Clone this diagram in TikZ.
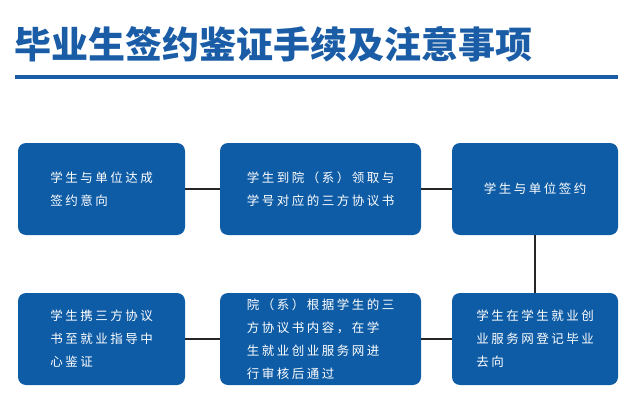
\documentclass[tikz,border=0pt]{standalone}
\usepackage{fontspec}
\setmainfont{Noto Sans CJK SC}
\newfontfamily\boxfont[LetterSpace=20]{Noto Sans CJK SC}
\definecolor{bx}{HTML}{0F5CA6}
\definecolor{tt}{HTML}{1A5DA6}
\begin{document}
\begin{tikzpicture}[x=1pt,y=-1pt,
  box/.style={fill=bx,rounded corners=8pt,text=white,align=left,font=\boxfont\fontsize{12.5}{23}\selectfont,inner sep=0pt},
  link/.style={draw=black!85,line width=1.6pt}]
\useasboundingbox (0,0) rectangle (640,412);
\node[anchor=west,text=tt,font=\bfseries\fontsize{37}{40}\selectfont,inner sep=0pt] (title) at (14,44) {毕业生签约鉴证手续及注意事项};
\fill[tt] (15,75.5) rectangle (618,79);
\node[box,minimum width=167,minimum height=92] (b1) at (101.5,189) {学生与单位达成\\签约意向};
\node[box,minimum width=201,minimum height=92] (b2) at (320.5,189) {学生到院（系）领取与\\学号对应的三方协议书};
\node[box,minimum width=166,minimum height=92] (b3) at (535,189) {学生与单位签约};
\node[box,minimum width=167,minimum height=92] (b4) at (101.5,339) {学生携三方协议\\书至就业指导中\\心鉴证};
\node[box,minimum width=201,minimum height=92] (b5) at (320.5,339) {院（系）根据学生的三\\方协议书内容，在学\\生就业创业服务网进\\行审核后通过};
\node[box,minimum width=166,minimum height=92] (b6) at (535,339) {学生在学生就业创\\业服务网登记毕业\\去向};
\draw[link] (b1) -- (b2);
\draw[link] (b2) -- (b3);
\draw[link] (b3) -- (b6);
\draw[link] (b6) -- (b5);
\draw[link] (b5) -- (b4);
\end{tikzpicture}
\end{document}
